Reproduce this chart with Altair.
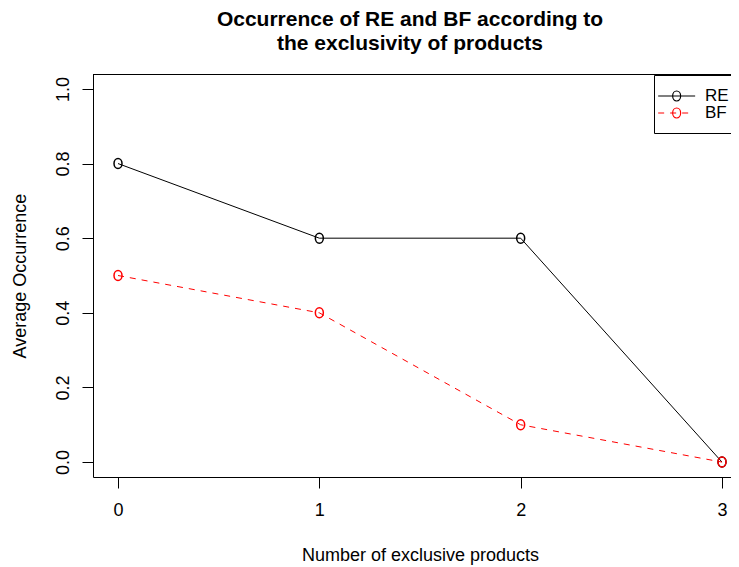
import altair as alt
import pandas as pd

# ---- data ----
x_values = [0, 1, 2, 3]
re_values = [0.8, 0.6, 0.6, 0.0]
bf_values = [0.5, 0.4, 0.1, 0.0]
series_names = ["RE", "BF"]
series_colors = ["black", "red"]
title_lines = ["Occurrence of RE and BF according to", "the exclusivity of products"]
x_title = "Number of exclusive products"
y_title = "Average Occurrence"
x_ticks = [0, 1, 2, 3]
y_ticks = [0.0, 0.2, 0.4, 0.6, 0.8, 1.0]

FONT = "Liberation Sans"
W, H = 638, 403

df = pd.DataFrame({
    "x": x_values + x_values,
    "value": re_values + bf_values,
    "series": [series_names[0]] * len(x_values) + [series_names[1]] * len(x_values),
})

# marker: small open ellipse like R's "o"
pt_shape = "M-0.8,0A0.8,1 0 1,0 0.8,0A0.8,1 0 1,0 -0.8,0"
# legend symbols: line sample with marker (units of ~8.25 px)
leg_circle = "M-0.485,0A0.485,0.606 0 1,0 0.485,0A0.485,0.606 0 1,0 -0.485,0"
leg_re = "M-2.243,0H2.243" + leg_circle
leg_bf = "M0,1.6M-2.243,0H-1.516M-0.788,0H-0.061M0.667,0H1.395" + leg_circle

xscale = alt.Scale(domain=[-0.1242, 3.0447], nice=False, zero=False)
yscale = alt.Scale(domain=[-0.04, 1.04], nice=False, zero=False)
cscale = alt.Scale(domain=series_names, range=series_colors)

x_enc = alt.X("x:Q", scale=xscale,
              axis=alt.Axis(values=x_ticks, format="d", title=x_title,
                            labelPadding=13, titleX=327, titleY=83,
                            titleAnchor="middle", titleAlign="center",
                            titleBaseline="alphabetic"))
y_enc = alt.Y("value:Q", scale=yscale,
              axis=alt.Axis(values=y_ticks, format=".1f", title=y_title,
                            labelAngle=270, labelAlign="center",
                            labelBaseline="alphabetic", labelPadding=14,
                            titleX=-68, titleY=201.5, titleAngle=270,
                            titleAlign="center", titleBaseline="alphabetic"))

legend_spec = alt.Legend(
    title=" ", titleFontSize=1, titlePadding=7,
    orient="none", legendX=561, legendY=1, strokeColor="black",
    fillColor="white", padding=4, cornerRadius=0,
    rowPadding=0, symbolOffset=9.65, labelOffset=19.3, labelFontSize=17,
    labelFont=FONT, labelColor="black", symbolSize=272,
    symbolStrokeWidth=1.2, symbolFillColor="transparent", symbolOpacity=1,
)

base = alt.Chart(df)

legend_layer = base.transform_filter("datum.x < -100").mark_point(
    filled=False, opacity=1, strokeWidth=1.2).encode(
    x=x_enc, y=y_enc,
    color=alt.Color("series:N", scale=cscale, legend=legend_spec),
    shape=alt.Shape("series:N",
                    scale=alt.Scale(domain=series_names, range=[leg_re, leg_bf]),
                    legend=legend_spec),
)

line_re = base.transform_filter(alt.datum.series == series_names[0]).mark_line(
    strokeWidth=1, color=series_colors[0]).encode(x=x_enc, y=y_enc)

line_bf = base.transform_filter(alt.datum.series == series_names[1]).mark_line(
    strokeWidth=1, color=series_colors[1], strokeDash=[6, 6]).encode(x=x_enc, y=y_enc)

points = base.mark_point(shape=pt_shape, filled=False, size=100,
                         strokeWidth=1.5, opacity=1).encode(
    x=x_enc, y=y_enc,
    color=alt.Color("series:N", scale=cscale, legend=None),
)

top_line = alt.Chart(df).mark_rule(color="black", strokeWidth=1).encode(
    x=alt.value(0), x2=alt.value(W), y=alt.value(0.5)
)

chart = alt.layer(legend_layer, top_line, line_re, line_bf, points).properties(
    width=W, height=H,
    title=alt.Title(text=title_lines, fontSize=21, font=FONT, fontWeight="bold",
                    color="black", anchor="middle", frame="group", dx=-2, dy=2,
                    offset=1, lineHeight=24, baseline="bottom"),
    autosize=alt.AutoSizeParams(type="none"),
    padding={"left": 85, "top": 66, "right": 0, "bottom": 90},
).configure_view(stroke=None).configure_axis(
    grid=False, domainColor="black", tickColor="black", tickSize=11,
    domainWidth=1, tickWidth=1, labelColor="black", titleColor="black",
    labelFont=FONT, titleFont=FONT, labelFontSize=18, titleFontSize=18,
    titleFontWeight="normal",
)

chart.save("out.html", embed_options={"renderer": "svg", "actions": False})
